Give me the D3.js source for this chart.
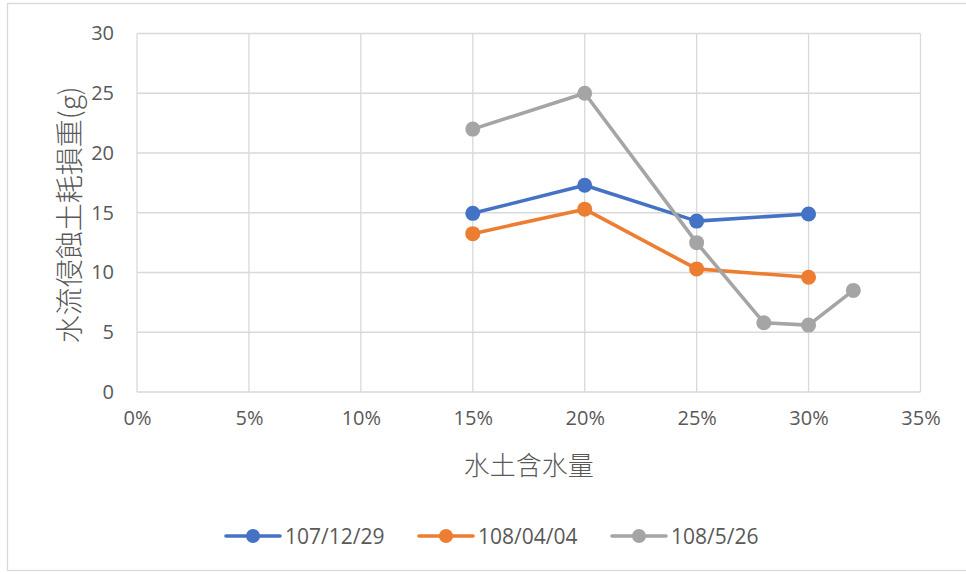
<!DOCTYPE html>
<html>
<head>
<meta charset="utf-8">
<script src="https://cdn.jsdelivr.net/npm/d3@7/dist/d3.min.js"></script>
<style>
  html, body { margin: 0; padding: 0; background: #ffffff; }
  svg { display: block; }
  text { fill: #595959; }
</style>
</head>
<body>
<svg id="chart" width="966" height="574"></svg>
<script>
// Soil water content (fraction) and eroded soil loss (g) per sampling date
const seriesNames = ["107/12/29", "108/04/04", "108/5/26"];
const seriesColors = ["#4472C4", "#ED7D31", "#A5A5A5"];

const moisture1 = [0.15, 0.20, 0.25, 0.30];
const loss1 = [14.95, 17.3, 14.3, 14.9];

const moisture2 = [0.15, 0.20, 0.25, 0.30];
const loss2 = [13.25, 15.3, 10.3, 9.6];

const moisture3 = [0.15, 0.20, 0.25, 0.28, 0.30, 0.32];
const loss3 = [22.0, 25.0, 12.5, 5.8, 5.6, 8.5];

const xTicks = [0, 0.05, 0.10, 0.15, 0.20, 0.25, 0.30, 0.35];
const yTicks = [0, 5, 10, 15, 20, 25, 30];

const xTitle = "水土含水量";
const yTitle = "水流侵蝕土耗損重(g)";

const series = [
  { name: seriesNames[0], color: seriesColors[0], pts: moisture1.map((m, i) => [m, loss1[i]]) },
  { name: seriesNames[1], color: seriesColors[1], pts: moisture2.map((m, i) => [m, loss2[i]]) },
  { name: seriesNames[2], color: seriesColors[2], pts: moisture3.map((m, i) => [m, loss3[i]]) }
];

const svg = d3.select("#chart");
const W = 966, H = 574;
const plot = { left: 137, top: 33.5, right: 920.5, bottom: 392 };
const numFont = "'Open Sans', 'Noto Sans', sans-serif";
const cjkFont = "'Noto Sans CJK TC', 'Noto Sans CJK SC', sans-serif";

// Chart frame
svg.append("rect")
  .attr("x", 7.5).attr("y", 3.5)
  .attr("width", W + 10).attr("height", H - 3 - 4)
  .attr("fill", "#ffffff").attr("stroke", "#D9D9D9").attr("stroke-width", 1.3);

const x = d3.scaleLinear().domain([0, 0.35]).range([plot.left, plot.right]);
const y = d3.scaleLinear().domain([0, 30]).range([plot.bottom, plot.top]);

// Gridlines
const grid = svg.append("g").attr("stroke", "#D9D9D9").attr("stroke-width", 1.3);
grid.selectAll("line.h").data(yTicks).join("line")
  .attr("x1", plot.left).attr("x2", plot.right)
  .attr("y1", d => y(d)).attr("y2", d => y(d));
grid.selectAll("line.v").data(xTicks).join("line")
  .attr("y1", plot.top).attr("y2", plot.bottom)
  .attr("x1", d => x(d)).attr("x2", d => x(d));

// Axes (labels only; the gridlines carry the frame)
const yAxis = svg.append("g")
  .attr("transform", `translate(${plot.left},0)`)
  .call(d3.axisLeft(y).tickValues(yTicks).tickSize(0).tickPadding(23).tickFormat(d3.format("d")));
yAxis.select(".domain").remove();
yAxis.selectAll("text")
  .style("font-family", numFont).style("font-size", "20px").attr("fill", "#595959");

const xAxis = svg.append("g")
  .attr("transform", `translate(0,${plot.bottom})`)
  .call(d3.axisBottom(x).tickValues(xTicks).tickSize(0).tickPadding(19).tickFormat(d3.format(".0%")));
xAxis.select(".domain").remove();
xAxis.selectAll("text")
  .style("font-family", numFont).style("font-size", "20px").attr("fill", "#595959");

// Axis titles
svg.append("text")
  .attr("x", (plot.left + plot.right) / 2).attr("y", 463)
  .attr("text-anchor", "middle").attr("dominant-baseline", "central")
  .style("font-family", cjkFont).style("font-size", "26px").style("font-weight", 300)
  .text(xTitle);

svg.append("text")
  .attr("transform", `translate(68,${(plot.top + plot.bottom) / 2 + 2}) rotate(-90)`)
  .attr("text-anchor", "middle").attr("dominant-baseline", "central")
  .style("font-family", cjkFont).style("font-size", "28px").style("font-weight", 300)
  .text(yTitle);

// Series lines and markers
const line = d3.line().x(d => x(d[0])).y(d => y(d[1]));
const sg = svg.append("g").selectAll("g").data(series).join("g");
sg.append("path")
  .attr("d", d => line(d.pts))
  .attr("fill", "none").attr("stroke", d => d.color)
  .attr("stroke-width", 3.6).attr("stroke-linejoin", "round").attr("stroke-linecap", "round");
sg.selectAll("circle").data(d => d.pts.map(p => ({ p, color: d.color }))).join("circle")
  .attr("cx", d => x(d.p[0])).attr("cy", d => y(d.p[1]))
  .attr("r", 7.5).attr("fill", d => d.color);

// Legend
const legend = svg.append("g").selectAll("g").data(series).join("g")
  .attr("transform", (d, i) => `translate(${226 + i * 193},536)`);
legend.append("line")
  .attr("x1", 0).attr("x2", 54).attr("y1", 0).attr("y2", 0)
  .attr("stroke", d => d.color).attr("stroke-width", 3.6).attr("stroke-linecap", "round");
legend.append("circle")
  .attr("cx", 27).attr("cy", 0).attr("r", 7).attr("fill", d => d.color);
legend.append("text")
  .attr("x", 59).attr("y", 0).attr("dominant-baseline", "central")
  .style("font-family", numFont).style("font-size", "21px")
  .text(d => d.name);
</script>
</body>
</html>
